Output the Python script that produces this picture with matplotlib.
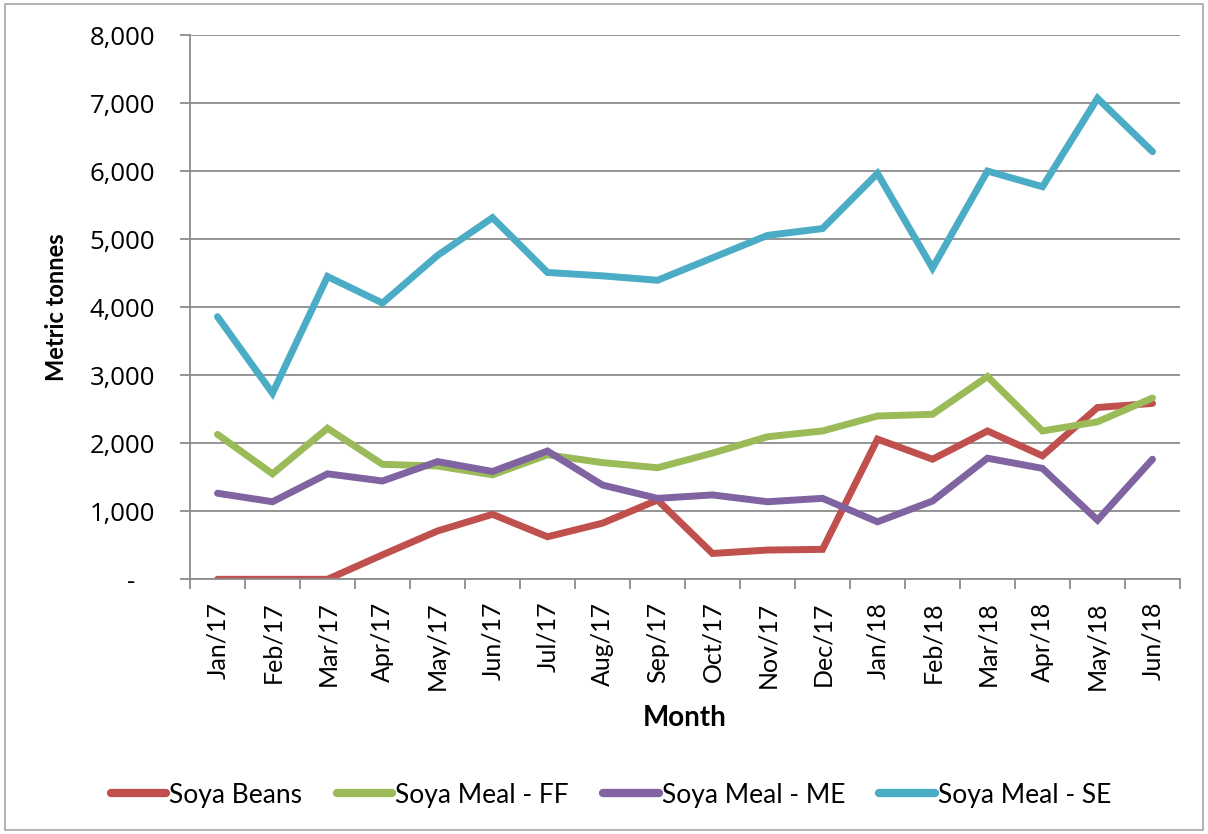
import matplotlib
matplotlib.use("Agg")
import matplotlib.pyplot as plt
from matplotlib.ticker import FixedLocator, FuncFormatter, NullFormatter
from matplotlib.patches import Rectangle

months = ["Jan/17", "Feb/17", "Mar/17", "Apr/17", "May/17", "Jun/17", "Jul/17",
          "Aug/17", "Sep/17", "Oct/17", "Nov/17", "Dec/17", "Jan/18", "Feb/18",
          "Mar/18", "Apr/18", "May/18", "Jun/18"]

soya_beans = [0, 0, 0, 360, 710, 955, 625, 825, 1165, 380, 430, 440,
              2060, 1765, 2180, 1815, 2525, 2585]
soya_meal_ff = [2130, 1550, 2220, 1690, 1665, 1535, 1830, 1715, 1640, 1855, 2095, 2180,
                2400, 2425, 2980, 2180, 2315, 2665]
soya_meal_me = [1265, 1140, 1550, 1445, 1730, 1585, 1885, 1385, 1190, 1240, 1140, 1190,
                845, 1150, 1780, 1630, 870, 1765]
soya_meal_se = [3860, 2735, 4450, 4060, 4760, 5315, 4510, 4460, 4395, 4725, 5055, 5155,
                5965, 4575, 6000, 5770, 7070, 6285]

series = [
    ("Soya Beans", soya_beans, "#C0504D"),
    ("Soya Meal - FF", soya_meal_ff, "#9BBB59"),
    ("Soya Meal - ME", soya_meal_me, "#8064A2"),
    ("Soya Meal - SE", soya_meal_se, "#4BACC6"),
]

W, H = 1208, 834
fig = plt.figure(figsize=(W / 100, H / 100), dpi=100)
fig.patch.set_facecolor("white")

# outer chart border
fig.patches.append(Rectangle((5 / W, 4 / H), (W - 10) / W, (H - 8) / H,
                             transform=fig.transFigure, fill=False,
                             edgecolor="#A6A6A6", linewidth=1.2))

left, right, top, bottom = 190, 1180, 35, 579.3
ax = fig.add_axes([left / W, 1 - bottom / H, (right - left) / W, (bottom - top) / H])

x = list(range(len(months)))
for name, vals, col in series:
    ax.plot(x, vals, color=col, linewidth=5, label=name,
            solid_capstyle="round", solid_joinstyle="miter")

ax.set_xlim(-0.5, len(months) - 0.5)
ax.set_ylim(0, 8000)

grid_col = "#8C8C8C"
ax.set_yticks(range(0, 8001, 1000))
ax.yaxis.set_major_formatter(FuncFormatter(lambda v, p: "-   " if v == 0 else f"{int(v):,}"))
ax.grid(axis="y", color=grid_col, linewidth=1.3)
ax.set_axisbelow(True)

ax.xaxis.set_major_locator(FixedLocator([i - 0.5 for i in range(len(months) + 1)]))
ax.xaxis.set_major_formatter(NullFormatter())
ax.xaxis.set_minor_locator(FixedLocator(x))
ax.set_xticks(x, minor=True)
ax.set_xticklabels(months, minor=True, rotation=90, fontfamily="Lato", fontsize=18)

ax.tick_params(axis="x", which="major", length=7, width=1.3, color=grid_col, direction="out")
ax.tick_params(axis="x", which="minor", length=0, pad=16)
ax.tick_params(axis="y", length=7, width=1.3, color=grid_col, pad=18, labelsize=18.5)
for lab in ax.get_yticklabels():
    lab.set_fontfamily("Open Sans")

for s in ["top", "right"]:
    ax.spines[s].set_visible(False)
for s in ["left", "bottom"]:
    ax.spines[s].set_color(grid_col)
    ax.spines[s].set_linewidth(1.3)

fig.text(685 / W, 1 - 718 / H, "Month", ha="center", va="center",
         fontfamily="Lato", fontweight="bold", fontsize=20)
fig.text(57 / W, 1 - 307 / H, "Metric tonnes", ha="center", va="center", rotation=90,
         fontfamily="Lato", fontweight="bold", fontsize=17)

leg = fig.legend(loc="center", bbox_to_anchor=(611 / W, 1 - 795 / H), ncol=4,
                 frameon=False, handlelength=2.1, handletextpad=0.12,
                 columnspacing=1.3, prop={"family": "Lato", "size": 19})
for line in leg.get_lines():
    line.set_linewidth(6)
    line.set_solid_capstyle("round")

fig.savefig("out.png", dpi=100, facecolor="white")
